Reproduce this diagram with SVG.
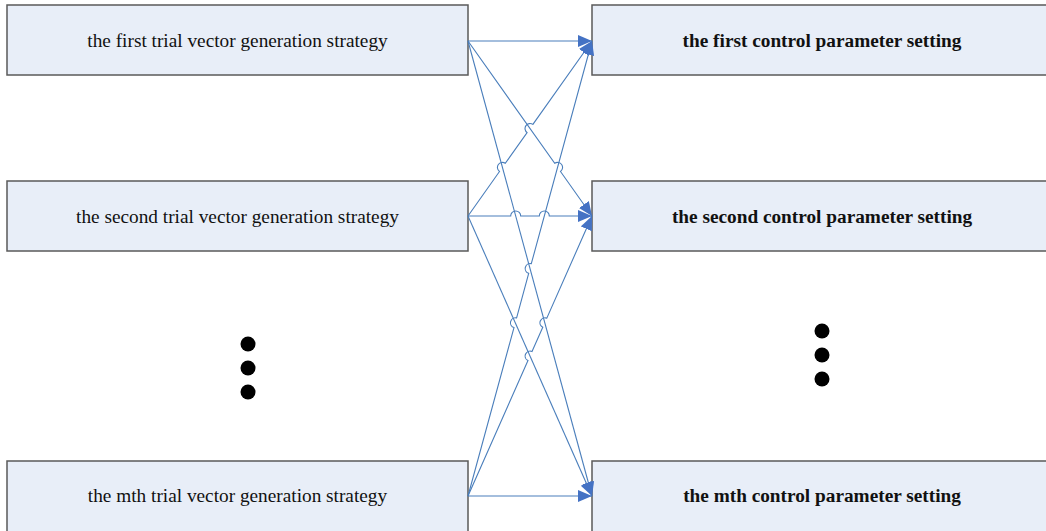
<svg xmlns="http://www.w3.org/2000/svg" width="1046" height="531" viewBox="0 0 1046 531">
<defs>
<style>
.box{fill:#e8eef8;stroke:#5a5a5a;stroke-width:1.5}
.lt{font-family:"Liberation Serif","Times New Roman",serif;font-size:19.3px;fill:#111;text-anchor:middle}
.rt{font-family:"Liberation Serif","Times New Roman",serif;font-size:19.3px;font-weight:bold;fill:#111;text-anchor:middle}
.ln{fill:none;stroke:#4a7ebb;stroke-width:1.1;marker-end:url(#arr)}
.dot{fill:#000}
</style>
<marker id="arr" markerUnits="userSpaceOnUse" markerWidth="15" markerHeight="13" refX="14" refY="6" orient="auto">
<path d="M0,0 L14,6 L0,12 z" fill="#4472c4"/>
</marker>
</defs>
<rect width="1046" height="531" fill="#fff"/>
<g id="s1"><rect class="box" x="7" y="5" width="461" height="70"/><text class="lt" x="237.5" y="47">the first trial vector generation strategy</text></g>
<g id="s2"><rect class="box" x="7" y="181" width="461" height="70"/><text class="lt" x="237.5" y="223">the second trial vector generation strategy</text></g>
<g id="s3"><rect class="box" x="7" y="461" width="461" height="72"/><text class="lt" x="237.5" y="502">the mth trial vector generation strategy</text></g>
<g id="t1"><rect class="box" x="592" y="5" width="462" height="70"/><text class="rt" x="822" y="47">the first control parameter setting</text></g>
<g id="t2"><rect class="box" x="592" y="181" width="462" height="70"/><text class="rt" x="822" y="223">the second control parameter setting</text></g>
<g id="t3"><rect class="box" x="592" y="461" width="462" height="72"/><text class="rt" x="822" y="502">the mth control parameter setting</text></g>
<g id="dotsL"><circle class="dot" cx="248" cy="344" r="7.5"/><circle class="dot" cx="248" cy="368" r="7.5"/><circle class="dot" cx="248" cy="392" r="7.5"/></g>
<g id="dotsR"><circle class="dot" cx="822" cy="331" r="7.5"/><circle class="dot" cx="822" cy="355" r="7.5"/><circle class="dot" cx="822" cy="379" r="7.5"/></g>
<g id="connectors">
<path class="ln" d="M468,41 L592,41"/>
<path class="ln" d="M468,41 L554.71,163.32 A5,5 0 0 1 560.49,171.48 L592,216"/>
<path class="ln" d="M468,41 L592,496"/>
<path class="ln" d="M468,216 L499.51,171.48 A5,5 0 0 1 505.29,163.32 L527.11,132.58 A5,5 0 0 1 532.89,124.42 L592,41"/>
<path class="ln" d="M468,216 L510.7,216 A5,5 0 0 1 520.7,216 L539.3,216 A5,5 0 0 1 549.3,216 L592,216"/>
<path class="ln" d="M468,216 L592,496"/>
<path class="ln" d="M468,496 L513.99,327.52 A5,5 0 0 1 516.61,317.88 L528.69,273.32 A5,5 0 0 1 531.31,263.68 L592,41"/>
<path class="ln" d="M468,496 L527.98,360.57 A5,5 0 0 1 532.02,351.43 L542.78,327.27 A5,5 0 0 1 546.82,318.13 L592,216"/>
<path class="ln" d="M468,496 L592,496"/>
</g>
</svg>
